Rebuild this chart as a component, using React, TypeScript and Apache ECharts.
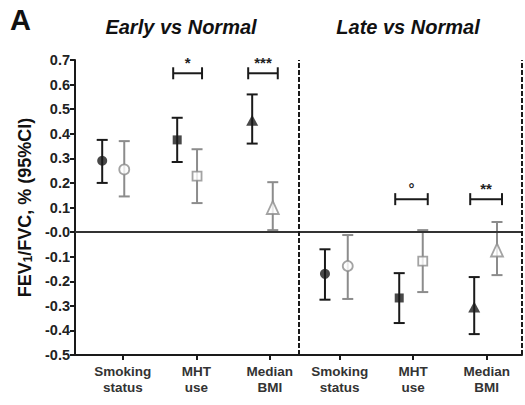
import React, { useEffect, useRef } from "react";
import * as echarts from "echarts";

// ---- data ----
const categories = ["Smoking\nstatus", "MHT\nuse", "Median\nBMI", "Smoking\nstatus", "MHT\nuse", "Median\nBMI"];
const tickPos = [0.65, 1.65, 2.65, 3.6, 4.6, 5.6];
const blackPos = [0.37, 1.39, 2.41, 3.4, 4.41, 5.43];
const grayPos = [0.67, 1.66, 2.69, 3.71, 4.73, 5.74];
const dividerPos = 3.04;
const xMax = 6.08;

const blackMean = [0.29, 0.375, 0.455, -0.17, -0.268, -0.305];
const blackLow = [0.2, 0.285, 0.36, -0.275, -0.37, -0.415];
const blackHigh = [0.375, 0.465, 0.56, -0.07, -0.167, -0.183];

const grayMean = [0.255, 0.228, 0.1, -0.138, -0.118, -0.073];
const grayLow = [0.145, 0.118, 0.008, -0.272, -0.244, -0.175];
const grayHigh = [0.37, 0.337, 0.203, -0.012, 0.008, 0.041];

const markerShapes = ["circle", "rect", "triangle", "circle", "rect", "triangle"];

// significance brackets: category index, y value, label
const bracketIdx = [1, 2, 4, 5];
const bracketY = [0.646, 0.646, 0.134, 0.134];
const bracketLabel = ["*", "***", "\u00b0", "**"];

const yMin = -0.5;
const yMax = 0.7;
const yInterval = 0.1;

const FONT = "'Liberation Sans', Arial, Helvetica, sans-serif";
const BLACK = "#1a1a1a";
const GRAY = "#8c8c8c";

function errorBarRender(color: string) {
  return (params: any, api: any) => {
    const x = api.value(0);
    const lo = api.value(1);
    const hi = api.value(2);
    const top = api.coord([x, hi]);
    const bot = api.coord([x, lo]);
    const hw = 5.5;
    const style = { stroke: color, lineWidth: 2 };
    return {
      type: "group",
      children: [
        { type: "line", shape: { x1: top[0], y1: top[1], x2: bot[0], y2: bot[1] }, style },
        { type: "line", shape: { x1: top[0] - hw, y1: top[1], x2: top[0] + hw, y2: top[1] }, style },
        { type: "line", shape: { x1: bot[0] - hw, y1: bot[1], x2: bot[0] + hw, y2: bot[1] }, style },
      ],
    };
  };
}

export default function App() {
  const ref = useRef<HTMLDivElement>(null);

  useEffect(() => {
    document.body.style.margin = "0";
    if (!ref.current) return;
    const chart = echarts.init(ref.current, undefined, { renderer: "svg" });

    const blackBars = blackMean.map((_, i) => [blackPos[i], blackLow[i], blackHigh[i]]);
    const grayBars = grayMean.map((_, i) => [grayPos[i], grayLow[i], grayHigh[i]]);

    const blackPts = blackMean.map((v, i) => ({
      value: [blackPos[i], v],
      symbol: markerShapes[i],
      symbolSize: markerShapes[i] === "triangle" ? [12, 11] : markerShapes[i] === "rect" ? 9 : 10,
    }));
    const grayPts = grayMean.map((v, i) => ({
      value: [grayPos[i], v],
      symbol: markerShapes[i],
      symbolSize: markerShapes[i] === "triangle" ? [12, 13] : markerShapes[i] === "rect" ? 9 : 10,
    }));

    const brackets = bracketIdx.map((ci, i) => [blackPos[ci], grayPos[ci], bracketY[i], i]);

    chart.setOption({
      animation: false,
      backgroundColor: "#ffffff",
      grid: { left: 75, right: 3, top: 60, bottom: 50 },
      graphic: [
        {
          type: "text",
          left: 10,
          top: 5,
          style: { text: "A", font: `bold 29px ${FONT}`, fill: "#111" },
        },
        {
          type: "text",
          x: 181,
          y: 37,
          style: {
            text: "Early vs Normal",
            font: `italic bold 20px ${FONT}`,
            fill: "#111",
            textAlign: "center",
            textVerticalAlign: "bottom",
          },
        },
        {
          type: "text",
          x: 408,
          y: 37,
          style: {
            text: "Late vs Normal",
            font: `italic bold 20px ${FONT}`,
            fill: "#111",
            textAlign: "center",
            textVerticalAlign: "bottom",
          },
        },
      ],
      xAxis: {
        type: "value",
        min: 0,
        max: xMax,
        splitLine: { show: false },
        axisLine: { show: true, onZero: false, lineStyle: { color: BLACK, width: 2 } },
        axisTick: { show: true, customValues: tickPos, length: 5, lineStyle: { color: BLACK, width: 2 } },
        axisLabel: {
          customValues: tickPos,
          formatter: (v: number) => {
            const i = tickPos.findIndex((t) => Math.abs(t - v) < 1e-6);
            return i >= 0 ? categories[i] : "";
          },
          fontFamily: FONT,
          fontWeight: "bold",
          fontSize: 13.5,
          lineHeight: 16,
          color: "#333",
          margin: 8,
        },
      },
      yAxis: {
        type: "value",
        min: yMin,
        max: yMax,
        interval: yInterval,
        splitLine: { show: false },
        axisLine: { show: true, onZero: false, lineStyle: { color: BLACK, width: 2 } },
        axisTick: { show: true, length: 5, lineStyle: { color: BLACK, width: 2 } },
        axisLabel: {
          formatter: (v: number) => (Math.abs(v) < 1e-9 ? "-0.0" : v.toFixed(1)),
          fontFamily: FONT,
          fontWeight: "bold",
          fontSize: 14.5,
          color: "#222",
          margin: 5,
        },
        name: "{a|FEV}{s|1}{a|/FVC, % (95%CI)}",
        nameLocation: "middle",
        nameRotate: 90,
        nameGap: 31,
        nameTextStyle: {
          rich: {
            a: { fontFamily: FONT, fontWeight: "bold", fontSize: 18, color: "#111" },
            s: { fontFamily: FONT, fontWeight: "bold", fontSize: 12, color: "#111", verticalAlign: "bottom" },
          },
        },
      },
      series: [
        {
          type: "custom",
          renderItem: errorBarRender(GRAY),
          data: grayBars,
          z: 2,
          silent: true,
          markLine: {
            silent: true,
            symbol: "none",
            label: { show: false },
            data: [
              { yAxis: 0, lineStyle: { type: "solid", color: "#333", width: 2 } },
              { xAxis: dividerPos, lineStyle: { type: [5, 2], color: BLACK, width: 2 } },
              { xAxis: xMax, lineStyle: { type: [5, 2], color: BLACK, width: 2 } },
            ],
          },
        },
        {
          type: "custom",
          renderItem: errorBarRender(BLACK),
          data: blackBars,
          z: 3,
          silent: true,
        },
        {
          type: "scatter",
          data: grayPts,
          itemStyle: { color: "#ffffff", borderColor: GRAY, borderWidth: 1.8 },
          z: 4,
          silent: true,
        },
        {
          type: "scatter",
          data: blackPts,
          itemStyle: { color: BLACK },
          z: 5,
          silent: true,
        },
        {
          type: "custom",
          silent: true,
          z: 6,
          data: brackets,
          renderItem: (params: any, api: any) => {
            const x1 = api.value(0);
            const x2 = api.value(1);
            const y = api.value(2);
            const idx = api.value(3);
            const p1 = api.coord([x1, y]);
            const p2 = api.coord([x2, y]);
            const l = p1[0] - 4;
            const r = p2[0] + 5;
            const style = { stroke: BLACK, lineWidth: 2 };
            return {
              type: "group",
              children: [
                { type: "line", shape: { x1: l, y1: p1[1], x2: r, y2: p1[1] }, style },
                { type: "line", shape: { x1: l, y1: p1[1] - 6, x2: l, y2: p1[1] + 6 }, style },
                { type: "line", shape: { x1: r, y1: p1[1] - 6, x2: r, y2: p1[1] + 6 }, style },
                {
                  type: "text",
                  x: (l + r) / 2,
                  y: p1[1] - 3,
                  style: {
                    text: bracketLabel[idx],
                    font: `bold 15px ${FONT}`,
                    fill: "#222",
                    textAlign: "center",
                    textVerticalAlign: "bottom",
                  },
                },
              ],
            };
          },
        },
      ],
    });

    return () => chart.dispose();
  }, []);

  return <div ref={ref} style={{ width: 525, height: 405 }} />;
}
